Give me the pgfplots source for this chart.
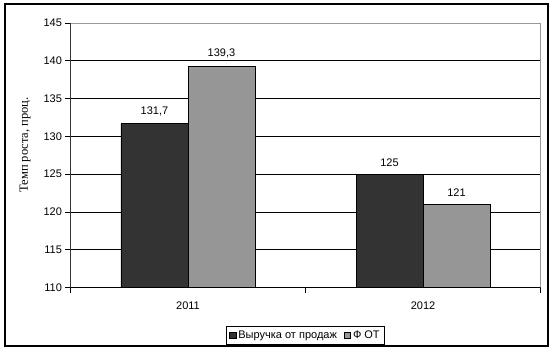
\documentclass[border=0pt]{standalone}
\usepackage{fontspec}
\setmainfont{Liberation Sans}
\newfontfamily\serifcyr{Liberation Serif}
\usepackage{pgfplots}
\pgfplotsset{compat=1.18}
\definecolor{darkbar}{HTML}{333333}
\definecolor{lightbar}{HTML}{969696}
\begin{document}
\begin{tikzpicture}
\useasboundingbox (-70.5bp,-64.5bp) rectangle (482.5bp,287.5bp);
\draw[black, line width=1.2bp] (-65.5bp,-58.5bp) rectangle (477.5bp,283.5bp);
\begin{axis}[
  scale only axis,
  width=470bp, height=264.5bp,
  xmin=-0.5, xmax=1.5, ymin=110, ymax=145,
  ytick={110,115,...,145},
  ymajorgrids,
  grid style={black, line width=0.8bp},
  xtick={0,1}, xticklabels={2011,2012},
  minor xtick={-0.5,0.5,1.5},
  xtick pos=bottom, ytick pos=left,
  major x tick style={draw=none},
  minor x tick style={black, line width=0.8bp},
  major y tick style={black, line width=0.8bp},
  tick align=outside,
  major tick length=5bp, minor tick length=5bp,
  axis line style={gray!80, line width=0.8bp},
  tick label style={font=\fontsize{11bp}{13bp}\selectfont},
  xticklabel style={yshift=-6bp},
  /pgf/number format/assume math mode=true,
  /pgf/number format/use comma,
  /pgf/number format/1000 sep={},
  every axis y label/.style={at={(axis description cs:-0.0968,0.539)}, rotate=90, anchor=center},
  ylabel={\serifcyr\fontsize{12.5bp}{14bp}\selectfont Темп роста, проц.},
  ybar=0pt, bar width=67bp,
  nodes near coords,
  nodes near coords style={font=\fontsize{11bp}{13bp}\selectfont, yshift=4bp},
  legend columns=2,
  legend style={at={(0.5,-0.145)}, anchor=north, draw=black, line width=0.8bp,
    font=\fontsize{11bp}{13bp}\selectfont, inner sep=2.5bp,
    /tikz/every even column/.append style={column sep=5bp}},
  legend image code/.code={\draw[#1, line width=0.6bp] (0bp,-3bp) rectangle (6.5bp,3.5bp);},
]
\addplot[fill=darkbar, draw=black, line width=0.8bp] coordinates {(0,131.7) (1,125)};
\addplot[fill=lightbar, draw=black, line width=0.8bp] coordinates {(0,139.3) (1,121)};
\legend{Выручка от продаж, Ф ОТ}
\draw[black, line width=0.8bp] (rel axis cs:0,0) -- (rel axis cs:0,1);
\draw[black, line width=0.8bp] (rel axis cs:0,0) -- (rel axis cs:1,0);
\end{axis}
\end{tikzpicture}
\end{document}
